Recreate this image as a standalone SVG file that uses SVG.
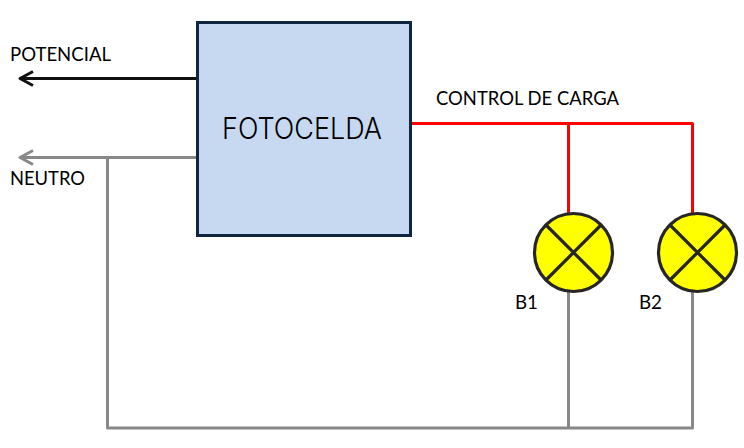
<svg xmlns="http://www.w3.org/2000/svg" width="744" height="448" viewBox="0 0 744 448">
<style>
.lbl{font-family:"Lato","Open Sans","Liberation Sans",sans-serif;font-size:19px;fill:#000}
.w{fill:none;stroke-width:3;stroke-linejoin:round;stroke-linecap:butt}
.blk{stroke:#111}.gry{stroke:#888}.red{stroke:#f00}
.lamp{fill:#ff0;stroke:#262626;stroke-width:3.2}
.x{stroke:#262626;stroke-width:3.2;fill:none}
</style>
<rect width="744" height="448" fill="#fff"/>
<g id="connectors">
<path class="w blk" d="M197 78.500H21"/>
<path class="w blk" stroke-linecap="round" d="M33 71.500L20 78.500L33 85.500"/>
<path class="w gry" d="M197 157.500H21"/>
<path class="w gry" d="M33 150.500L20 157.500L33 164.500"/>
<path class="w gry" d="M107.500 157.500V428H692.500V292"/>
<path class="w gry" d="M568.500 292V428"/>
<path class="w red" d="M412 123.500H692.500V214"/>
<path class="w red" d="M568.500 123.500V214"/>
</g>
<g id="fotocelda">
<rect x="197.500" y="22.500" width="213" height="213" fill="#c6d9f1" stroke="#10253f" stroke-width="3"/>
<text x="222" y="138.500" font-family="Inter,'Liberation Sans',Arial,sans-serif" font-weight="300" font-size="30" textLength="160" lengthAdjust="spacingAndGlyphs">FOTOCELDA</text>
</g>
<g id="b1">
<circle class="lamp" cx="573.500" cy="252.500" r="39"/>
<path class="x" d="M546 225L601 280M601 225L546 280"/>
<text class="lbl" x="515" y="309" textLength="23" lengthAdjust="spacingAndGlyphs">B1</text>
</g>
<g id="b2">
<circle class="lamp" cx="697.500" cy="252.500" r="39"/>
<path class="x" d="M670 225L725 280M725 225L670 280"/>
<text class="lbl" x="639" y="309" textLength="23" lengthAdjust="spacingAndGlyphs">B2</text>
</g>
<g id="labels">
<text class="lbl" x="10" y="61" textLength="101" lengthAdjust="spacingAndGlyphs">POTENCIAL</text>
<text class="lbl" x="10" y="185" textLength="75" lengthAdjust="spacingAndGlyphs">NEUTRO</text>
<text class="lbl" x="436" y="105" textLength="183" lengthAdjust="spacingAndGlyphs">CONTROL DE CARGA</text>
</g>
</svg>
